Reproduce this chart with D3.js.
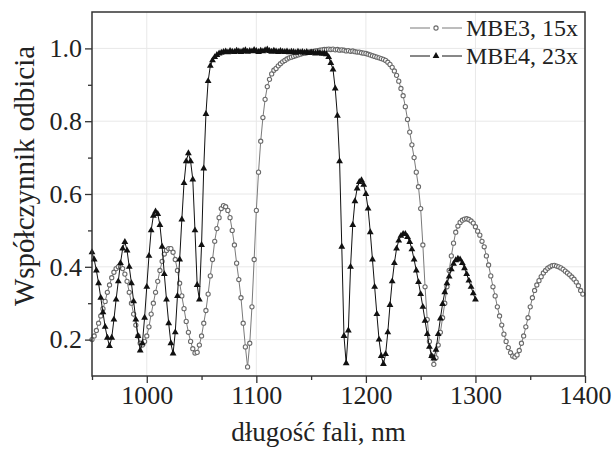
<!DOCTYPE html>
<html>
<head>
<meta charset="utf-8">
<script src="https://cdn.jsdelivr.net/npm/d3@7"></script>
<style>
  body { margin: 0; background: #fff; }
  svg text { font-family: "Liberation Serif", "Times New Roman", Times, serif !important; fill: #222; }
</style>
</head>
<body>
<div id="chart"></div>
<script>
// Reflectance spectra, sampled every 2 nm starting at 950 nm
const stepNm = 2;
const mbe3Start = 950;
const mbe4Start = 950;

// MBE3, 15x (open circles)
const mbe3Values = [
  0.20, 0.21, 0.225, 0.245, 0.265, 0.285, 0.305, 0.33, 0.35, 0.37,
  0.385, 0.395, 0.40, 0.40, 0.395, 0.38, 0.36, 0.33, 0.30, 0.27,
  0.24, 0.21, 0.19, 0.185, 0.195, 0.21, 0.235, 0.27, 0.30, 0.33,
  0.36, 0.39, 0.415, 0.435, 0.445, 0.45, 0.45, 0.44, 0.42, 0.39,
  0.355, 0.32, 0.285, 0.25, 0.22, 0.195, 0.175, 0.163, 0.165, 0.185,
  0.21, 0.245, 0.28, 0.325, 0.375, 0.42, 0.47, 0.505, 0.535, 0.56,
  0.568, 0.565, 0.555, 0.535, 0.50, 0.46, 0.41, 0.365, 0.315, 0.245,
  0.18, 0.125, 0.19, 0.29, 0.42, 0.555, 0.66, 0.745, 0.81, 0.86,
  0.895, 0.915, 0.93, 0.94, 0.945, 0.952, 0.958, 0.963, 0.967, 0.971,
  0.974, 0.976, 0.978, 0.98, 0.982, 0.984, 0.986, 0.987, 0.988, 0.99,
  0.991, 0.992, 0.993, 0.994, 0.995, 0.996, 0.997, 0.997, 0.998, 0.997,
  0.998, 0.996, 0.997, 0.995, 0.996, 0.995, 0.993, 0.994, 0.992, 0.993,
  0.991, 0.99, 0.99, 0.988, 0.987, 0.986, 0.984, 0.982, 0.98, 0.978,
  0.976, 0.974, 0.972, 0.97, 0.967, 0.962, 0.956, 0.948, 0.938, 0.926,
  0.91, 0.89, 0.87, 0.84, 0.805, 0.77, 0.735, 0.70, 0.66, 0.62,
  0.56, 0.46, 0.345, 0.255, 0.195, 0.155, 0.132, 0.15, 0.185, 0.22,
  0.26, 0.30, 0.345, 0.39, 0.43, 0.465, 0.495, 0.512, 0.522, 0.528,
  0.531, 0.532, 0.53, 0.526, 0.52, 0.51, 0.498, 0.487, 0.47, 0.455,
  0.43, 0.405, 0.375, 0.345, 0.32, 0.29, 0.265, 0.24, 0.215, 0.195,
  0.178, 0.164, 0.155, 0.152, 0.158, 0.17, 0.19, 0.21, 0.235, 0.26,
  0.29, 0.315, 0.335, 0.35, 0.362, 0.373, 0.383, 0.39, 0.396, 0.40,
  0.403, 0.404, 0.402, 0.40, 0.397, 0.393, 0.388, 0.383, 0.378, 0.372,
  0.366, 0.358, 0.348, 0.335, 0.325
];

// MBE4, 23x (filled triangles)
const mbe4Values = [
  0.44, 0.42, 0.39, 0.355, 0.315, 0.275, 0.235, 0.205, 0.182, 0.205,
  0.255, 0.31, 0.36, 0.41, 0.45, 0.468, 0.445, 0.40, 0.355, 0.305,
  0.255, 0.21, 0.17, 0.19, 0.26, 0.345, 0.43, 0.50, 0.54, 0.552,
  0.545, 0.515, 0.455, 0.38, 0.31, 0.245, 0.19, 0.162, 0.22, 0.32,
  0.42, 0.53, 0.63, 0.69, 0.712, 0.69, 0.64, 0.50, 0.35, 0.31,
  0.46, 0.67, 0.82, 0.91, 0.952, 0.967, 0.976, 0.982, 0.986, 0.988,
  0.99,
  0.992, 0.989, 0.993, 0.991, 0.990, 0.994, 0.992, 0.990, 0.993, 0.995,
  0.991, 0.993, 0.992, 0.996, 0.993, 0.990, 0.994, 0.992, 0.995, 0.997,
  0.993, 0.991, 0.994, 0.992, 0.990, 0.993, 0.991, 0.990, 0.992, 0.989,
  0.991, 0.990, 0.988, 0.991, 0.989, 0.990, 0.988, 0.990, 0.987, 0.989,
  0.988, 0.986, 0.988, 0.987, 0.985, 0.986, 0.984,
  0.976, 0.96, 0.942, 0.89, 0.815, 0.69, 0.455, 0.21, 0.135, 0.225,
  0.40, 0.515, 0.58, 0.615, 0.633, 0.638, 0.625, 0.60, 0.56, 0.495,
  0.42, 0.345, 0.27, 0.20, 0.155, 0.133, 0.16, 0.22, 0.295, 0.36,
  0.41, 0.45, 0.472, 0.485, 0.49, 0.49, 0.482, 0.468, 0.448, 0.42,
  0.39, 0.358, 0.325, 0.29, 0.252, 0.215, 0.18, 0.155, 0.148, 0.172,
  0.215, 0.258, 0.298, 0.33, 0.355, 0.373, 0.393, 0.408, 0.418, 0.422,
  0.42, 0.41, 0.396, 0.38, 0.362, 0.345, 0.327, 0.31
];

// Axis ticks
const xTicks = [1000, 1100, 1200, 1300, 1400];
const xMinorTicks = [950, 1050, 1150, 1250, 1350];
const yTicks = [0.2, 0.4, 0.6, 0.8, 1.0];
const yMinorTicks = [0.3, 0.5, 0.7, 0.9];

const seriesNames = ["MBE3, 15x", "MBE4, 23x"];

// Layout
const W = 616, H = 450;
const margin = { top: 12, right: 31, bottom: 74, left: 92 };
const width = W - margin.left - margin.right;
const height = H - margin.top - margin.bottom;
const serif = "'Liberation Serif', 'Times New Roman', Times, serif";

const svg = d3.select("#chart").append("svg")
  .attr("width", W)
  .attr("height", H);

const g = svg.append("g")
  .attr("transform", `translate(${margin.left},${margin.top})`);

const x = d3.scaleLinear().domain([950, 1400]).range([0, width]);
const y = d3.scaleLinear().domain([0.1, 1.1]).range([height, 0]);

// faint grid
g.append("g").selectAll("line")
  .data(xTicks.slice(0, -1))
  .join("line")
  .attr("x1", d => x(d)).attr("x2", d => x(d))
  .attr("y1", 0).attr("y2", height)
  .attr("stroke", "#e8e8e8").attr("stroke-width", 1);
g.append("g").selectAll("line")
  .data(yTicks)
  .join("line")
  .attr("x1", 0).attr("x2", width)
  .attr("y1", d => y(d)).attr("y2", d => y(d))
  .attr("stroke", "#e8e8e8").attr("stroke-width", 1);

// build point arrays
const mbe3 = mbe3Values.map((v, i) => ({ nm: mbe3Start + i * stepNm, r: v }));
const mbe4 = mbe4Values.map((v, i) => ({ nm: mbe4Start + i * stepNm, r: v }));

const line = d3.line().x(d => x(d.nm)).y(d => y(d.r));

// MBE3 - gray open circles
g.append("path")
  .datum(mbe3)
  .attr("fill", "none")
  .attr("stroke", "#7a7a7a")
  .attr("stroke-width", 1)
  .attr("d", line);

g.append("g").selectAll("circle")
  .data(mbe3)
  .join("circle")
  .attr("cx", d => x(d.nm))
  .attr("cy", d => y(d.r))
  .attr("r", 2.1)
  .attr("fill", "#fff")
  .attr("stroke", "#6a6a6a")
  .attr("stroke-width", 1.1);

// MBE4 - black triangles
g.append("path")
  .datum(mbe4)
  .attr("fill", "none")
  .attr("stroke", "#111")
  .attr("stroke-width", 1)
  .attr("d", line);

const tri = d3.symbol().type(d3.symbolTriangle).size(20);
g.append("g").selectAll("path")
  .data(mbe4)
  .join("path")
  .attr("transform", d => `translate(${x(d.nm)},${y(d.r)})`)
  .attr("d", tri)
  .attr("fill", "#111");

// axes
const xAxis = d3.axisBottom(x).tickValues(xTicks).tickSize(7).tickPadding(3)
  .tickFormat(d3.format("d"));
const gx = g.append("g")
  .attr("transform", `translate(0,${height})`)
  .call(xAxis);
g.append("g")
  .attr("transform", `translate(0,${height})`)
  .call(d3.axisBottom(x).tickValues(xMinorTicks).tickSize(4).tickFormat(""));

const yAxis = d3.axisLeft(y).tickValues(yTicks).tickSize(7).tickPadding(3)
  .tickFormat(d3.format(".1f"));
const gy = g.append("g").call(yAxis);
g.append("g")
  .call(d3.axisLeft(y).tickValues(yMinorTicks).tickSize(4).tickFormat(""));

g.selectAll(".domain").remove();
g.selectAll(".tick line").attr("stroke", "#333").attr("stroke-width", 1.3);
g.selectAll("g").attr("font-family", serif);
gx.selectAll("text").attr("font-family", serif).style("font-size", "26px").attr("fill", "#222");
gy.selectAll("text").attr("font-family", serif).style("font-size", "26px").attr("fill", "#222");

// frame
g.append("rect")
  .attr("width", width).attr("height", height)
  .attr("fill", "none")
  .attr("stroke", "#333")
  .attr("stroke-width", 1.5);

// axis titles
svg.append("text")
  .attr("x", margin.left + width / 2 - 20)
  .attr("y", 441)
  .attr("text-anchor", "middle")
  .attr("font-family", serif)
  .style("font-size", "27px")
  .text("długość fali, nm");

svg.append("text")
  .attr("transform", `translate(34, ${margin.top + height / 2 - 18}) rotate(-90)`)
  .attr("text-anchor", "middle")
  .attr("font-family", serif)
  .style("font-size", "29px")
  .text("Współczynnik odbicia");

// legend
const legend = g.append("g").attr("transform", `translate(${410 - margin.left}, ${28 - margin.top})`);
const legendItems = legend.selectAll("g")
  .data(seriesNames)
  .join("g")
  .attr("transform", (_, i) => `translate(0, ${i * 28})`);

legendItems.append("line")
  .attr("x1", 0).attr("x2", 52)
  .attr("stroke", (_, i) => i === 0 ? "#7a7a7a" : "#111")
  .attr("stroke-width", 1);
legendItems.each(function(d, i) {
  const item = d3.select(this);
  item.append("rect").attr("x", 20).attr("y", -4).attr("width", 12).attr("height", 8).attr("fill", "#fff");
  if (i === 0) {
    item.append("circle").attr("cx", 26).attr("r", 2.1)
      .attr("fill", "#fff").attr("stroke", "#6a6a6a").attr("stroke-width", 1.1);
  } else {
    item.append("path").attr("transform", "translate(26,0)").attr("d", tri).attr("fill", "#111");
  }
});
legendItems.append("text")
  .attr("x", 56)
  .attr("y", 8)
  .attr("font-family", serif)
  .style("font-size", "24px")
  .text(d => d);
</script>
</body>
</html>
